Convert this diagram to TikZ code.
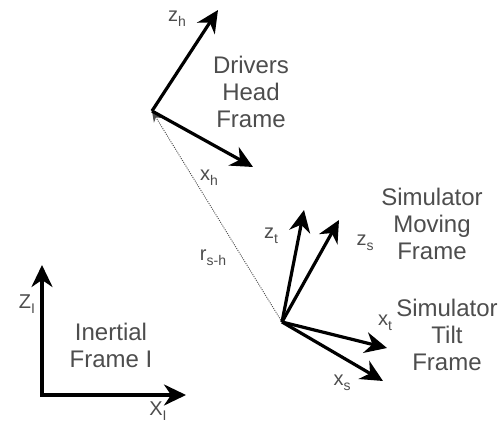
\documentclass[tikz,border=0pt]{standalone}
\usepackage{fontspec}
\setmainfont{Liberation Sans}
\usetikzlibrary{arrows.meta}
\definecolor{txt}{HTML}{4D4D4D}
\newcommand{\mysub}[1]{\raisebox{-5pt}{\fontsize{14}{14}\selectfont #1}}
\tikzset{
  axis/.style={line width=3.2pt,-{Stealth[length=22pt,width=21pt,inset=7pt]}},
  lbl/.style={text=txt,font=\fontsize{24}{27}\selectfont,align=center,inner sep=0pt},
  sym/.style={text=txt,font=\fontsize{20}{22}\selectfont,inner sep=0pt},
}
\begin{document}
\begin{tikzpicture}[x=1pt,y=-1pt]
\useasboundingbox (0,0) rectangle (501,435);
% origins
\coordinate (H) at (152,111);
\coordinate (S) at (282,322);
\coordinate (I) at (42,395);
% tips
\coordinate (zh) at (218,10);
\coordinate (xh) at (253,167);
\coordinate (zt) at (304,210);
\coordinate (zs) at (339,220);
\coordinate (xt) at (387,348);
\coordinate (xs) at (383,381);
\coordinate (zI) at (42,265);
\coordinate (xI) at (186,395);
% position vector
\draw[black!70,line width=0.9pt,dash pattern=on 1pt off 1.2pt,-{Stealth[length=11pt,width=9pt]}] (S) -- (H);
% axes
\draw[axis] (H) -- (zh);
\draw[axis] (H) -- (xh);
\draw[axis] (S) -- (zt);
\draw[axis] (S) -- (zs);
\draw[axis] (S) -- (xt);
\draw[axis] (S) -- (xs);
\draw[axis,line cap=rect] (I) -- (zI);
\draw[axis,line cap=rect] (I) -- (xI);
% labels
\node[sym] (lzh) at (177,19) {z\mysub{h}};
\node[sym] (lxh) at (209,178) {x\mysub{h}};
\node[sym] (lr) at (213,258) {r\mysub{s-h}};
\node[sym] (lzt) at (271,236) {z\mysub{t}};
\node[sym] (lzs) at (365,243) {z\mysub{s}};
\node[sym] (lxt) at (385,323) {x\mysub{t}};
\node[sym] (lxs) at (342,383) {x\mysub{s}};
\node[sym] (lzI) at (27,304) {Z\mysub{I}};
\node[sym] (lxI) at (158,411) {X\mysub{I}};
\node[lbl] (dh) at (251,92) {Drivers\\Head\\Frame};
\node[lbl] (smf) at (432,224) {Simulator\\Moving\\Frame};
\node[lbl] (stf) at (447,335) {Simulator\\Tilt\\Frame};
\node[lbl] (inf) at (111,345) {Inertial\\Frame I};
\end{tikzpicture}
\end{document}
